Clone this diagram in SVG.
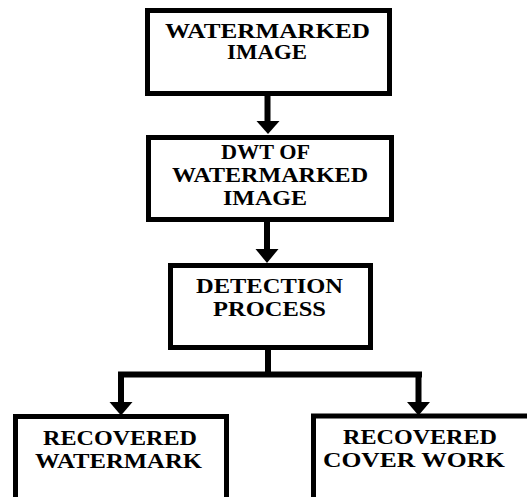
<svg xmlns="http://www.w3.org/2000/svg" width="527" height="497" viewBox="0 0 527 497">
  <style>
    .box { fill: #ffffff; stroke: #000000; stroke-width: 5; }
    .label { font-family: "Liberation Serif", "Times New Roman", "DejaVu Serif", serif; font-weight: bold; font-size: 20px; fill: #000000; text-anchor: middle; }
    .line { fill: none; stroke: #000000; stroke-width: 6; }
    .head { fill: #000000; }
  </style>
  <rect width="527" height="497" fill="#ffffff"/>

  <!-- connectors -->
  <g id="connectors">
    <path class="line" d="M267.5 96 V123"/>
    <polygon class="head" points="256.5,121 279.5,121 268,134"/>
    <path class="line" d="M267 222 V251"/>
    <polygon class="head" points="255.5,249 278.5,249 267,263"/>
    <path class="line" d="M268 350 V374.5 M118 374.5 H422 M121 371.5 V404 M418.5 371.5 V404"/>
    <polygon class="head" points="109.5,402 132.5,402 121,415.5"/>
    <polygon class="head" points="407,402 430,402 418.5,415.5"/>
  </g>

  <g id="watermarked-image">
    <rect class="box" x="147.5" y="10.5" width="242" height="83"/>
    <text class="label" x="267.5" y="38" textLength="205" lengthAdjust="spacingAndGlyphs">WATERMARKED</text>
    <text class="label" x="267" y="59" textLength="80" lengthAdjust="spacingAndGlyphs">IMAGE</text>
  </g>

  <g id="dwt">
    <rect class="box" x="148.5" y="137.5" width="243" height="82"/>
    <text class="label" x="265.5" y="159" textLength="89" lengthAdjust="spacingAndGlyphs">DWT OF</text>
    <text class="label" x="270" y="182" textLength="196" lengthAdjust="spacingAndGlyphs">WATERMARKED</text>
    <text class="label" x="265" y="205" textLength="84" lengthAdjust="spacingAndGlyphs">IMAGE</text>
  </g>

  <g id="detection">
    <rect class="box" x="170.5" y="265.5" width="200" height="82"/>
    <text class="label" x="269.5" y="293" textLength="147" lengthAdjust="spacingAndGlyphs">DETECTION</text>
    <text class="label" x="269.5" y="316" textLength="113" lengthAdjust="spacingAndGlyphs">PROCESS</text>
  </g>

  <g id="recovered-watermark">
    <rect class="box" x="15.5" y="416.5" width="211" height="100"/>
    <text class="label" x="120" y="445" textLength="154" lengthAdjust="spacingAndGlyphs">RECOVERED</text>
    <text class="label" x="118.5" y="468" textLength="167" lengthAdjust="spacingAndGlyphs">WATERMARK</text>
  </g>

  <g id="recovered-cover">
    <rect class="box" x="313.5" y="416" width="240" height="100"/>
    <text class="label" x="420" y="444" textLength="154" lengthAdjust="spacingAndGlyphs">RECOVERED</text>
    <text class="label" x="414" y="467" textLength="182" lengthAdjust="spacingAndGlyphs">COVER WORK</text>
  </g>
</svg>
